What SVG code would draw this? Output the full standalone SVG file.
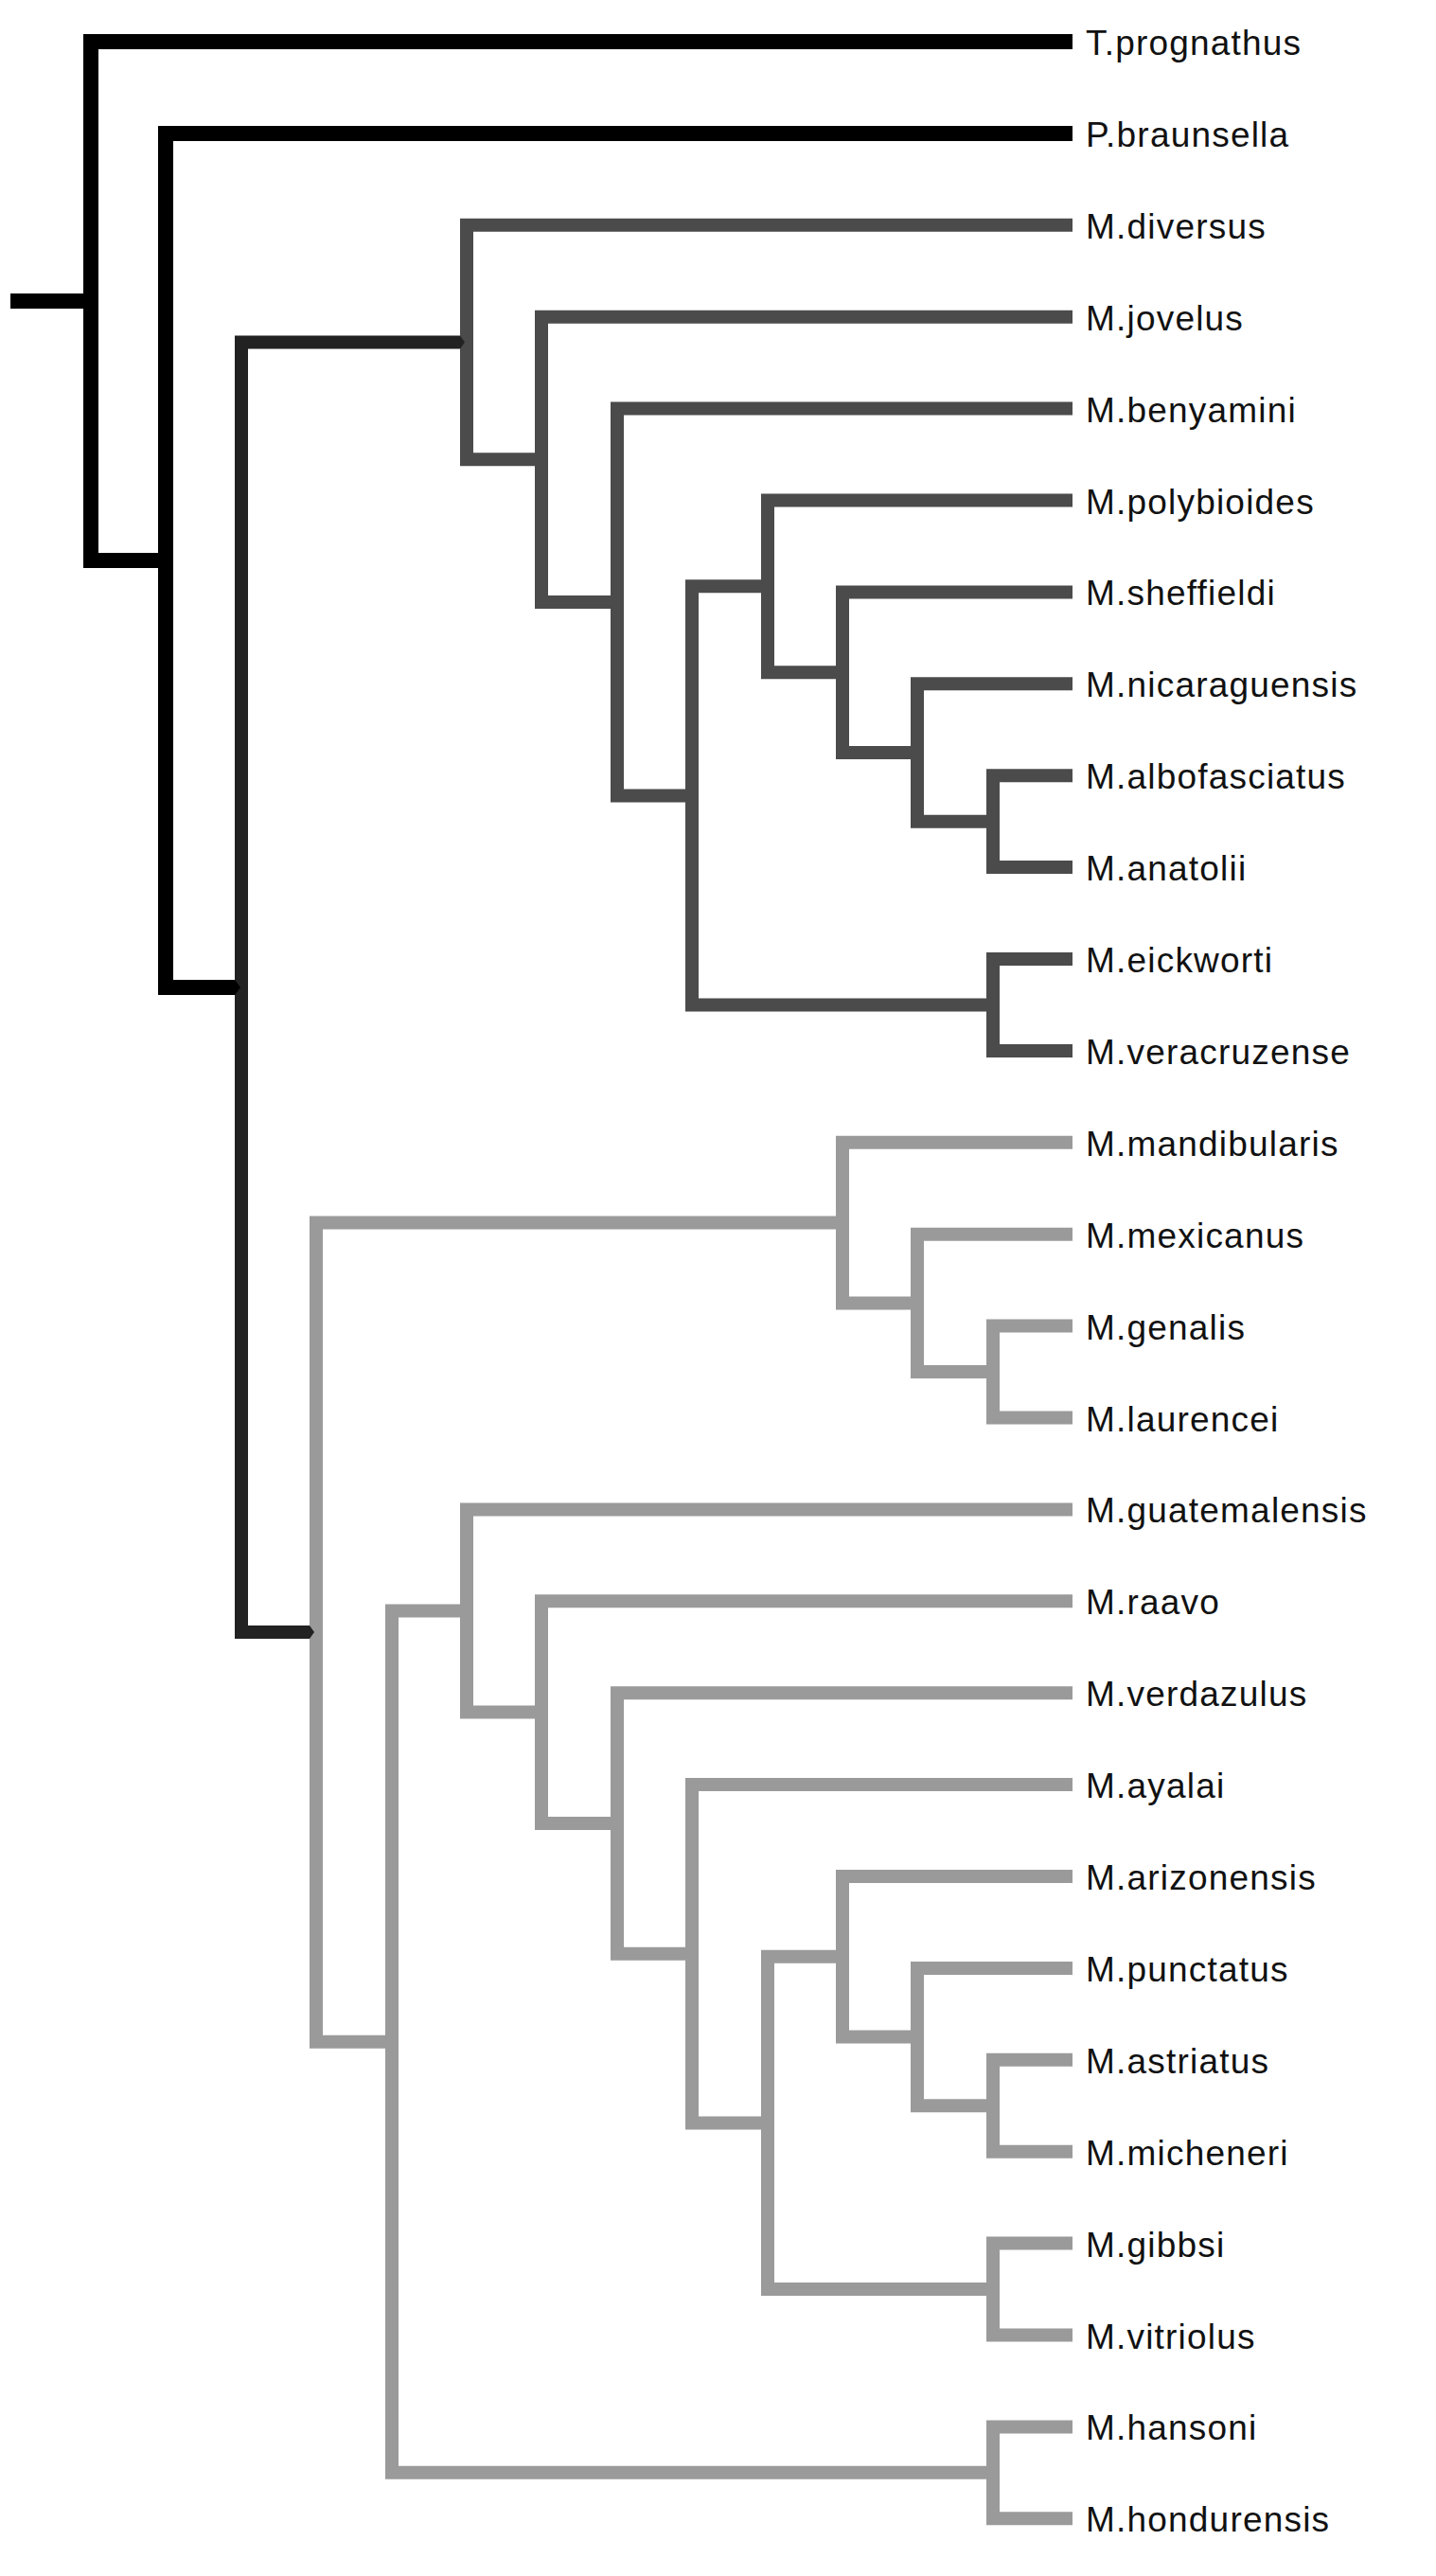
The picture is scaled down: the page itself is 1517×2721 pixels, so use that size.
<svg xmlns="http://www.w3.org/2000/svg" width="1517" height="2721" viewBox="0 0 1517 2721">
<style>
.br{fill:none;stroke-linejoin:miter;stroke-linecap:butt;stroke-width:14}
.k{stroke:#000;stroke-width:16}
.d{stroke:#222}
.m{stroke:#4b4b4b}
.l{stroke:#9a9a9a}
.tk{fill:#000}
.td{fill:#222}
text{font-family:"Liberation Sans",Arial,sans-serif;font-size:37px;letter-spacing:1.2px;fill:#111}
</style>
<rect width="1517" height="2721" fill="#fff"/>
<g id="connectors">
  <g id="clade-light">
    <path class="br l" d="M890,1291.6 H334 V2156.7 H414"/>
    <path class="br l" d="M1133,1206.8 H890 V1376.4 H969"/>
    <path class="br l" d="M1133,1303.7 H969 V1449.05 H1049"/>
    <path class="br l" d="M1133,1400.6 H1049 V1497.5 H1133"/>
    <path class="br l" d="M493,1701.5 H414 V2611.85 H1049"/>
    <path class="br l" d="M1133,1594.4 H493 V1808.6 H572"/>
    <path class="br l" d="M1133,1691.3 H572 V1926 H652"/>
    <path class="br l" d="M1133,1788.2 H652 V2063.75 H731"/>
    <path class="br l" d="M1133,1885.1 H731 V2242.4 H811"/>
    <path class="br l" d="M890,2066.8 H811 V2418.05 H1049"/>
    <path class="br l" d="M1133,1982 H890 V2151.6 H969"/>
    <path class="br l" d="M1133,2078.9 H969 V2224.25 H1049"/>
    <path class="br l" d="M1133,2175.8 H1049 V2272.7 H1133"/>
    <path class="br l" d="M1133,2369.6 H1049 V2466.5 H1133"/>
    <path class="br l" d="M1133,2563.4 H1049 V2660.3 H1133"/>
  </g>
  <g id="clade-dark">
    <path class="br m" d="M1133,237.8 H493 V485.35 H572"/>
    <path class="br m" d="M1133,334.7 H572 V636 H652"/>
    <path class="br m" d="M1133,431.6 H652 V840.4 H731"/>
    <path class="br m" d="M811,619.3 H731 V1061.45 H1049"/>
    <path class="br m" d="M1133,528.5 H811 V710.2 H890"/>
    <path class="br m" d="M1133,625.4 H890 V795 H969"/>
    <path class="br m" d="M1133,722.3 H969 V867.65 H1049"/>
    <path class="br m" d="M1133,819.2 H1049 V916.1 H1133"/>
    <path class="br m" d="M1133,1013 H1049 V1109.9 H1133"/>
  </g>
  <g id="stem-megalopta">
    <path class="br d" d="M486,361.6 H255 V1724.1 H327"/>
    <polygon class="td" points="486,354.6 491,361.6 486,368.6"/>
    <polygon class="td" points="327,1717.1 332,1724.1 327,1731.1"/>
  </g>
  <g id="stem-root">
    <path class="br k" d="M11,318 H96"/>
    <path class="br k" d="M1133,44 H96 V591.9 H175"/>
    <path class="br k" d="M1133,140.9 H175 V1042.9 H248"/>
    <polygon class="tk" points="248,1034.9 254,1042.9 248,1050.9"/>
  </g>
</g>
<g id="labels">
  <g id="n-T-prognathus"><text x="1147" y="58">T.prognathus</text></g>
  <g id="n-P-braunsella"><text x="1147" y="154.9">P.braunsella</text></g>
  <g id="n-M-diversus"><text x="1147" y="251.8">M.diversus</text></g>
  <g id="n-M-jovelus"><text x="1147" y="348.7">M.jovelus</text></g>
  <g id="n-M-benyamini"><text x="1147" y="445.6">M.benyamini</text></g>
  <g id="n-M-polybioides"><text x="1147" y="542.5">M.polybioides</text></g>
  <g id="n-M-sheffieldi"><text x="1147" y="639.4">M.sheffieldi</text></g>
  <g id="n-M-nicaraguensis"><text x="1147" y="736.3">M.nicaraguensis</text></g>
  <g id="n-M-albofasciatus"><text x="1147" y="833.2">M.albofasciatus</text></g>
  <g id="n-M-anatolii"><text x="1147" y="930.1">M.anatolii</text></g>
  <g id="n-M-eickworti"><text x="1147" y="1027">M.eickworti</text></g>
  <g id="n-M-veracruzense"><text x="1147" y="1123.9">M.veracruzense</text></g>
  <g id="n-M-mandibularis"><text x="1147" y="1220.8">M.mandibularis</text></g>
  <g id="n-M-mexicanus"><text x="1147" y="1317.7">M.mexicanus</text></g>
  <g id="n-M-genalis"><text x="1147" y="1414.6">M.genalis</text></g>
  <g id="n-M-laurencei"><text x="1147" y="1511.5">M.laurencei</text></g>
  <g id="n-M-guatemalensis"><text x="1147" y="1608.4">M.guatemalensis</text></g>
  <g id="n-M-raavo"><text x="1147" y="1705.3">M.raavo</text></g>
  <g id="n-M-verdazulus"><text x="1147" y="1802.2">M.verdazulus</text></g>
  <g id="n-M-ayalai"><text x="1147" y="1899.1">M.ayalai</text></g>
  <g id="n-M-arizonensis"><text x="1147" y="1996">M.arizonensis</text></g>
  <g id="n-M-punctatus"><text x="1147" y="2092.9">M.punctatus</text></g>
  <g id="n-M-astriatus"><text x="1147" y="2189.8">M.astriatus</text></g>
  <g id="n-M-micheneri"><text x="1147" y="2286.7">M.micheneri</text></g>
  <g id="n-M-gibbsi"><text x="1147" y="2383.6">M.gibbsi</text></g>
  <g id="n-M-vitriolus"><text x="1147" y="2480.5">M.vitriolus</text></g>
  <g id="n-M-hansoni"><text x="1147" y="2577.4">M.hansoni</text></g>
  <g id="n-M-hondurensis"><text x="1147" y="2674.3">M.hondurensis</text></g>
</g>
</svg>
